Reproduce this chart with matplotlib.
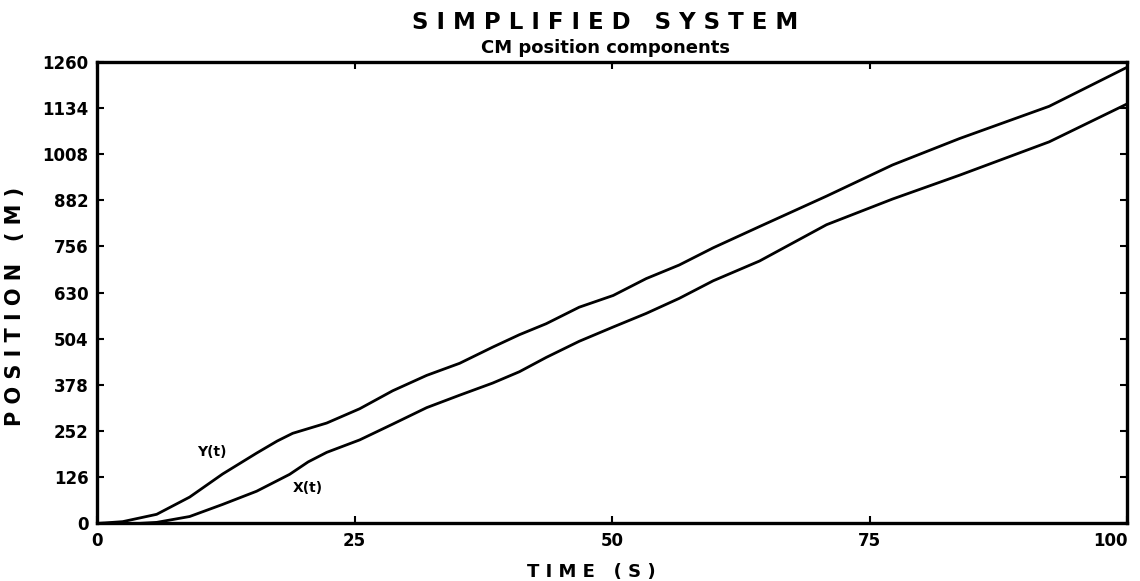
#!/usr/bin/env python3

import matplotlib
matplotlib.use('Agg')
import matplotlib.pyplot as plt

# values
tY = [0, 2.5, 5.8, 9, 12.2, 15.5, 17.5, 19, 22.3, 25.5, 28.7, 32, 35.2, 38.4,
      41, 43.6, 46.8, 50.1, 53.3, 56.5, 59.8, 64.3, 70.8, 77.2, 83.7, 92.4, 100]
posY = [0, 5, 25, 72, 135, 192, 225, 246, 274, 313, 362, 404, 437, 481,
        515, 545, 590, 622, 668, 705, 752, 810, 893, 978, 1050, 1138, 1245]

tX = [0, 4, 5.8, 9, 12.2, 15.5, 18.7, 20.5, 22.3, 25.5, 28.7, 32, 35.2, 38.4,
      41, 43.6, 46.8, 50.1, 53.3, 56.5, 59.8, 64.3, 70.8, 77.2, 83.7, 92.4, 100]
posX = [0, 0, 3, 19, 52, 88, 134, 168, 194, 228, 271, 316, 350, 383,
        414, 453, 497, 536, 573, 614, 662, 716, 815, 885, 950, 1041, 1145]

xTicks = [0, 25, 50, 75, 100]
yTicks = [0, 126, 252, 378, 504, 630, 756, 882, 1008, 1134, 1260]

if __name__ == '__main__':
    plt.rcParams['font.family'] = ['DejaVu Sans']
    plt.rcParams['font.weight'] = 'bold'

    fig = plt.figure(figsize=(11.4, 5.81), dpi=100)
    ax = fig.add_axes([0.085, 0.099, 0.904, 0.795])

    ax.plot(tY, posY, color='k', linewidth=2.0)
    ax.plot(tX, posX, color='k', linewidth=2.0)

    ax.text(11.2, 195, 'Y(t)', fontsize=10, fontweight='bold', ha='center', va='center')
    ax.text(20.5, 96, 'X(t)', fontsize=10, fontweight='bold', ha='center', va='center')

    ax.set_xlim(0, 100)
    ax.set_ylim(0, 1260)
    ax.set_xticks(xTicks)
    ax.set_yticks(yTicks)
    ax.tick_params(direction='in', length=5, width=1.5, top=True, right=True,
                   labelsize=12, pad=6)
    for lbl in ax.get_xticklabels() + ax.get_yticklabels():
        lbl.set_fontweight('bold')
    ax.get_xticklabels()[-1].set_horizontalalignment('right')
    for sp in ax.spines.values():
        sp.set_linewidth(2.4)

    ax.set_xlabel('T I M E   ( S )', fontsize=13, fontweight='bold')
    ax.xaxis.set_label_coords(0.48, -0.085)
    ax.set_ylabel('P O S I T I O N   ( M )', fontsize=15, fontweight='bold')
    ax.yaxis.set_label_coords(-0.07, 0.47)

    fig.text(0.531, 0.962, 'S I M P L I F I E D   S Y S T E M', fontsize=16.5,
             fontweight='bold', ha='center', va='center')
    fig.text(0.531, 0.918, 'CM position components', fontsize=13,
             fontweight='bold', ha='center', va='center')

    fig.savefig('out.png', dpi=100)
